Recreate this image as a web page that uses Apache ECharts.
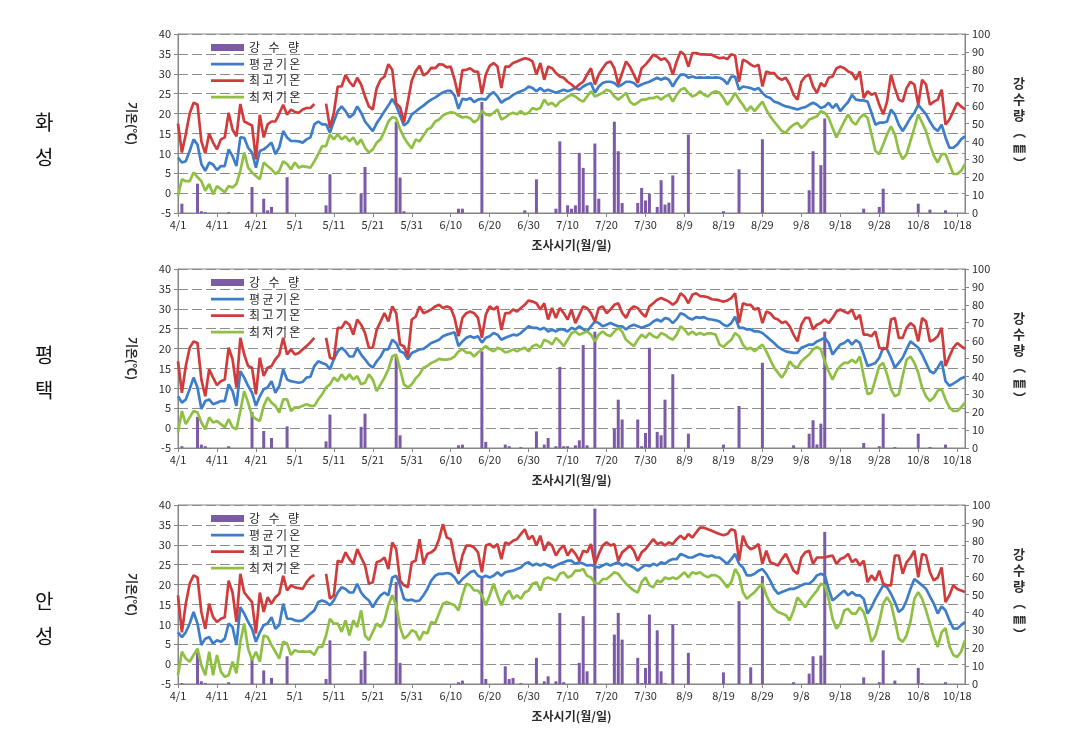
<!DOCTYPE html>
<html><head><meta charset="utf-8">
<script src="https://cdn.jsdelivr.net/npm/echarts@6/dist/echarts.min.js"></script>
<style>html,body{margin:0;padding:0;background:#fff}#c{width:1068px;height:729px}</style>
</head><body><div id="c"></div>
<script>
// ---------- categories (4/1 .. 10/20) ----------
const monthDays = [[4,30],[5,31],[6,30],[7,31],[8,31],[9,30],[10,20]];
const dates = [];
monthDays.forEach(([m,n]) => { for (let d = 1; d <= n; d++) dates.push(m + '/' + d); });

const stationNames = ['화\n성', '평\n택', '안\n성'];
const seriesNames = ['강 수 량', '평균기온', '최고기온', '최저기온'];

// ---------- 화성 ----------
const hsMax = [
17.5,10.2,14.8,20,22.7,22.3,13,10,15,12.7,
11,13.5,14,20.2,16,14.3,22.4,18,17.5,17,
8.5,19.7,14,17.3,18,18,20,22.2,19.7,21,
20.4,20.2,21,21.4,21.4,22.4,null,null,22.5,16.4,
20.2,26.8,26.8,29.7,28,26.8,29,27.3,24.3,21.8,
21,26.4,28.5,29.3,32.4,31,22.5,21.6,17.8,23,
28.3,30.6,32,29.6,30.2,31.5,31.4,32.4,32.3,31.6,
31.8,28.5,24.3,30.9,31,31.4,30.6,30.5,24.9,29.8,
32,32.7,31.8,26.4,31.8,31.8,32.7,33.1,33.5,33.9,
33.7,33.1,29.8,32.7,28.5,31.8,31.4,30.2,29.3,29,
28,27.3,26.4,27.3,28,29.8,31.4,27.3,29.8,31.4,
32.7,33.1,31.4,27.3,30.2,33.1,31.8,29.8,27.7,31.4,
32.3,33.5,34.8,34.3,33.5,33.9,32.7,29.8,33.1,35.6,
34.8,31.8,35.2,35.2,34.9,34.9,34.8,34.8,34.3,33.9,
34.1,33.7,34.9,34.6,28,33.5,33.1,32.3,31.8,32.3,
26.8,30.6,30.2,30.2,29,28.5,29,27.3,24.7,23.5,
28,29.3,29.8,26.8,25.2,27.7,26.8,29,29.3,31.4,
31.8,31.4,30.6,30.2,28.5,30.6,23.9,25.6,24.7,25.2,
22.2,19.8,23,29.8,26.4,23.5,23,26.4,28,27.3,
22.2,28.5,27.3,22.2,23,23.5,26,17.2,18.5,20.6,
22.7,21.8,21];
const hsMean = [
8.9,7.7,8,10.6,13.5,12.2,7.3,5.6,7.7,7.2,
5.8,6.8,6.8,11,9.3,6.8,14,13.9,11.4,10.2,
6.4,10.6,11,11.8,12.7,9.8,11.5,15.6,14,13.1,
13.1,13,12.7,13.5,14,17.3,18,17.3,17.3,15.2,
18,20.6,21.8,20.6,19,19.8,21.8,20.2,18,16.8,
15.6,17.6,19,20.6,22,23.7,22,19.5,17,17.8,
19.8,20.5,21.3,22,22.8,23.5,24,24.7,25.3,25.7,
25.7,24.5,21.2,23.7,23.5,23.9,22.9,23.5,23.7,23.5,
24.7,25.4,24.3,22.7,23.5,23.9,24.7,25.2,25.6,26,
26.8,26.4,25.6,26.4,25.6,26,25.6,25.2,25.6,26,
25.6,26,26.4,26,26.8,27.3,27.7,25.2,26.8,27.7,
28,28,27.7,26.8,27.3,28,28,27.7,26.8,27.3,
27.7,28,28.5,29,28.5,29,28.5,26.8,28.5,29.8,
29.8,29,29.3,29,29.1,29,29.1,29,29.1,29,
28.5,27.4,29.3,29.3,26,26.8,26.6,26.4,26,26.4,
25.2,24.3,23.9,23,22.7,22.2,21.8,21.6,21.3,21,
21.4,21.6,22.2,22.7,22.2,21.4,21.8,22.7,21.4,22.4,
20.6,21.8,22.9,24.7,23.5,23.3,23.3,23,20.2,17.2,
17.7,17.7,18,21,19.8,17.2,15.6,17.2,18.9,20.2,
22.2,21,19.8,18,16.4,15.6,17.2,14,11.4,11.4,
12.2,13.5,14.3];
const hsMin = [
-0.7,3.5,3,3,5.2,4,3,0.6,2.3,-0.3,
1.8,1,0.2,1.8,1.4,2.3,5.6,10.2,6.4,5.2,
4.3,3.5,7.7,6.8,6,4.8,5.6,8,7.3,6,
7.7,6.4,6.8,6.6,6.4,8,9.8,11.8,11.8,14.8,
13.5,14.8,13.5,14.3,13,14,12.2,13.5,11.4,10.2,
11,12.7,13.5,15.6,18,19.1,18.8,16,14,12.5,
11.2,13.5,13,14.5,16,16.5,18,18.5,19.5,20,
20.3,20.2,19.5,19,19.2,18.8,17.8,18.5,20.7,19.8,
19.5,20.2,21,18.5,19,19.8,20.2,19.8,20.6,19.8,
20.2,21.4,21,21.4,23.5,22.2,22.7,21.8,23,23.5,
24.3,24.7,24.3,23.5,23,24.3,25.6,24.3,24.7,25.2,
26,25.6,24.3,23.5,24.3,25.2,23,22.2,22.7,23.5,
23.5,23.9,23.9,24.3,23.5,24.3,24.7,23,24.7,26,
26.4,25.2,24.3,24.7,25.6,24.7,24.3,25.2,25.6,25.2,
23.9,22.2,23.5,25.2,23.5,22.2,20.6,21.8,20.6,21.8,
23,21,19.3,18,16.8,15.6,15.2,16.4,17.2,17.7,
16.4,17.2,18.5,18.9,19.3,20.6,20.2,18.9,16.4,14,
16,18,19.8,18,17.2,18.9,19.8,18.9,14.8,10.6,
9.8,12.2,14.8,16.8,14.8,10.6,8.5,9.8,13.1,16.4,
19.8,17.7,15.6,12.2,9.4,7.7,9.8,9.8,7.3,4.8,
4.8,5.6,7.3];
const hsRain = [
['4/2',5.2],['4/6',16.4],['4/7',1],['4/8',0.5],['4/14',0.5],['4/20',14.5],['4/23',8],['4/24',1.5],['4/25',3.4],['4/29',20],
['5/9',4.3],['5/10',21.6],['5/18',10.8],['5/19',25.7],['5/27',51],['5/28',19.8],['5/29',1],
['6/12',2.4],['6/13',2.4],['6/18',62],['6/29',1.5],
['7/2',18.8],['7/7',2.4],['7/8',40],['7/10',4.3],['7/11',2.4],['7/12',4.3],['7/13',33.6],['7/14',25.2],['7/15',4.3],['7/17',38.8],['7/18',8],
['7/22',51],['7/23',34.5],['7/24',5.6],['7/28',5.6],['7/29',14],['7/30',7],['7/31',10.8],
['8/2',3.4],['8/3',18.3],['8/4',4.7],['8/5',5.8],['8/6',21],['8/10',43.8],['8/19',1],['8/23',24.4],['8/29',41.2],
['9/10',12.7],['9/11',34.5],['9/13',26.7],['9/14',52.8],['9/24',2.4],['9/28',3.4],['9/29',13.6],
['10/8',5.2],['10/11',1.9],['10/15',1.5]];

// ---------- 평택 ----------
const ptMax = [
16.8,8.9,15.6,20.2,21.8,21.4,12.2,8,14.8,12.7,
10.8,11.8,12.2,20.2,17.3,10.2,22.7,18.5,15.6,15.2,
8.5,17.7,13.1,15.2,15.6,17.3,18.5,22.7,18.5,19.8,
18.5,18.9,19.8,20.6,21.6,22.7,null,null,22.7,17.7,
17.3,25.2,25.2,26.8,26,23.5,27.3,26,23.9,20.2,
20.2,24.7,26.8,28.9,26.8,30.6,28.9,21,20.6,18,
27.3,28,30.6,28.9,29.3,29.8,30.6,31,30.2,30.6,
30.2,27.7,23.1,27.7,28.9,29.3,28.9,27.7,22.7,28.5,
30.6,29.8,30.6,24.7,28.9,28.9,29.8,29.3,30.2,31,
32.1,31.8,31.4,29.8,31.4,27.3,30.2,27.7,30.2,28.9,
27.3,29.8,26.4,28.5,30.6,30.2,28.9,26.8,30.2,30.6,
28.9,29.8,31,31.4,29,27.7,29.8,30.6,30.2,28.9,
28,30.6,31.4,32.3,32.7,32.3,31.8,31,31.8,33.9,
33.1,31.4,33.5,33.9,33.2,33.1,32.9,32.4,32.3,32.1,
31.8,32.1,32.7,33.9,26.4,31.4,31,31,29.8,30.2,
26.4,29.3,28.9,27.7,27.3,26.4,26.8,25.6,23.5,21.8,
26,27.7,27.7,24.8,26,26.4,27.3,26.4,27.7,29.3,
29.8,29.3,28.9,29.8,27.3,28.5,23.5,23.5,23.1,24.3,
20.2,19.8,20.2,27.3,27.7,22.7,22.7,25.2,26.4,25.6,
21.8,27.7,26.8,21.8,22.2,23.1,25.2,15.6,18,20.2,
21.4,20.6,19.9];
const ptMean = [
8,6.4,7.2,9.8,12.7,10.2,4.8,6.8,7.2,6,
6.4,6.8,6.8,11,9.3,5.6,14.3,12.7,10.6,8.9,
5.6,8,9.8,10.2,11.8,8.9,10.6,14.8,12.2,11.8,
11.6,11.4,11.6,12.7,12.9,15.6,16.8,16.4,16,14.8,
17.3,19.3,20.2,19.3,18,18,20.2,18.5,17.3,16,
15.2,16.8,18,19.8,19.8,22.2,21.4,19.3,18.9,17.3,
18.9,19.3,19.8,19.9,20.6,21.4,21.8,22.2,23.1,23.5,
23.8,24.1,20.6,21.8,22.7,23.1,22.7,23.1,21.5,22.7,
23.1,23.9,23.5,22.2,22.7,23.1,23.5,23.3,23.9,24.8,
25.6,25.2,25.2,24.8,25.2,24.3,24.8,24.3,24.9,24.8,
24.3,25.2,24.8,25.6,24.9,24.3,25.6,26.8,26.4,25.6,
26,26.4,26,25.6,25.6,24.8,25.6,26,25.6,25.2,
25.6,26,26.8,27.3,26.8,27.7,27.4,26.4,27.4,28.9,
28.5,27.7,27.3,27.9,27.7,27.9,27.4,27.3,27.1,26.8,
26,25.6,26.4,28,25.2,25.2,24.8,24.8,24.3,24.3,
23.9,23.1,22.2,21.4,20.4,19.8,19.3,19.1,18.9,18.9,
20.2,20.6,21,21,21.8,22.2,22.7,21.4,18.5,19.8,
21,21.4,22.2,21,22.1,21.4,18.5,15.6,16,16.4,
17.7,20.2,19.8,17.7,15.2,16.4,17.7,19.8,21.8,21,
20.2,18.5,16.4,14.3,13.8,15.2,16.8,11.8,10.6,11.2,
11.8,12.5,12.9];
const ptMin = [
-1.1,4.3,1,2.7,4.3,3.9,1.4,-0.3,2.7,1.4,
1.8,1,0.2,2.3,0.2,-0.3,4.3,9.3,6.4,3.1,
2.3,1.8,5.6,7.7,6.4,5.6,3.9,7.2,7.2,4.3,
5.2,5.2,5.6,6,5.6,5.6,7.2,8.5,10.2,11,
12.7,11.8,13.5,12.2,13.5,12.2,13.1,11,11.4,13.5,
12.2,9.3,11,12.7,14.8,18,18.5,14.8,11,10.2,
11,12.5,13.5,15.2,15.6,16.4,16.8,17.4,17.2,17.2,
17.4,18,19.3,19.8,19,19,18,19,19.8,20.6,
19.8,19.3,20.2,19.8,19,19.3,19.8,19.3,19.8,20.2,
19.3,20.6,21,20.2,22.2,21.8,21,22.7,21.8,20.6,
22.2,23.9,24.3,23.5,23.9,24.3,23.5,21.8,23.5,24.3,
23.5,23.1,24.3,25.2,24.3,22.2,21.4,20.6,22.2,23.5,
22.7,23.9,23.1,22.7,23.9,23.5,22.7,22.2,23.5,25.6,
24.8,23.5,24.3,23.5,23.9,23.5,23.8,23.8,23.5,21,
20.4,21.4,22.2,23.9,23.1,21,19.8,20.2,19.3,20.2,
21,19.3,17.2,15.2,13.9,12.7,14.3,16.8,15.6,15.2,
16.8,17.7,18.5,19.8,20.4,19.8,16.8,14.3,12.2,14.3,
15.6,16.4,16.4,17.2,16.4,18,13.1,8.5,8.9,12.2,
15.6,16.4,13.5,9.8,8,8.5,13.1,17.2,18,16.4,
13.9,10.2,8,6.8,7.7,9.4,9.8,7.2,5.2,4.3,
4.3,5.2,6.4];
const ptRain = [
['4/2',1],['4/6',17.4],['4/7',1.9],['4/8',1],['4/14',1],['4/20',20.1],['4/23',9.5],['4/25',5.6],['4/29',12.1],
['5/9',3.7],['5/10',18.7],['5/18',11.8],['5/19',19.2],['5/27',51],['5/28',7.1],
['6/12',1.5],['6/13',1.9],['6/18',54],['6/19',3.4],['6/24',1.9],['6/25',1],['6/28',0.5],
['7/2',9.3],['7/4',1.9],['7/5',5.6],['7/7',1],['7/8',45.3],['7/9',1],['7/10',1],['7/12',1.5],['7/13',4.3],['7/14',57.5],['7/15',1.5],['7/17',65],
['7/22',10.8],['7/23',27],['7/24',15.9],['7/28',15.9],['7/29',1],['7/30',8.4],['7/31',56],
['8/2',9],['8/3',7.1],['8/4',27],['8/6',41.2],['8/10',8],['8/19',1.9],['8/23',23.5],['8/29',47.6],
['9/6',1.5],['9/10',8],['9/11',15.5],['9/12',2],['9/13',13.6],['9/14',65],['9/24',2.8],['9/28',1],['9/29',19.2],
['10/2',0.5],['10/8',8],['10/11',0.5],['10/15',1.9]];

// ---------- 안성 ----------
const asMax = [
17.3,8,15.2,20.2,22.3,21.8,13.1,8.9,15.2,11.8,
10.6,11.4,11.8,21,18,10.6,22.7,18,16.8,15.6,
7.7,18,13.1,16.8,15.2,16.8,17.7,22.2,18.5,19.8,
19.3,19.1,18.9,20.6,21.8,22.4,null,null,22.7,16.4,
17.3,26,25.6,28.1,26.4,25.2,28.9,26.8,24.8,20.2,
20.6,25.6,26,26.8,23.9,30.6,28.9,21,19.8,19.3,
25.6,26,31.4,25.2,27.7,28.1,28.9,31.4,35.2,31.8,
31.4,26.4,22.7,27.3,29.8,29.8,29.3,28.1,23.1,29.8,
30.2,29.3,30.2,26.4,30.6,30.2,31,31.4,32.7,33.9,
31.4,32.3,29.8,32.3,28.5,30.6,29.8,27.3,28.9,29.8,
27.3,28.9,27.7,26,28.5,28.1,30.2,25.2,27.7,29.8,
30.6,29.8,30.2,26,28.1,28.9,29.8,28.5,26,28.1,
28.9,30.2,31.4,30.2,30.6,29.8,30.6,30.2,31.4,32.3,
31.4,32.7,31.8,33.1,34.3,34.3,33.9,33.5,33.1,32.7,
32.4,32.7,33.9,33.5,26,32.3,29.8,28.9,29.3,30.2,
25.2,28.5,25.6,25.2,24.8,26.4,27.7,25.6,23.5,22.7,
26.8,28.1,28.5,25.2,26.8,26.8,26.8,27.1,27.3,25.2,
26.4,26.8,27.7,25.6,26.4,24.8,26,20.6,22.3,21,
23.5,20.2,19.8,19.8,27.3,27.3,22.7,25.6,26.8,28.5,
21.8,27.7,27.3,23.1,21,21.8,24.3,15.6,17.3,19.8,
18.9,18.5,18.1];
const asMean = [
8,6.8,8,10.2,13.1,10.2,4.8,6.4,6.8,5.2,
6,5.6,6.4,10.2,9.3,4.8,14.3,12.7,10.6,8.9,
5.6,8,9.8,10.2,11.8,8.9,9.8,15.2,11.4,11.4,
11,10.8,11,11.8,12.7,13.5,15.6,16,15.6,14.8,
16,18,19.3,18.9,18,18,20.2,18,16.8,16,
14.3,16,17.3,18,17.3,21.8,22.2,19.8,16.4,16,
16.2,15.8,16,17.3,18.9,21,22.2,22.7,22.7,22.9,
22.7,21.8,20.2,21.4,22.2,23.1,23.5,22.2,21.8,22.2,
21.8,22.2,23.1,22.2,23.1,23.3,23.5,23.9,24.3,25.2,
25.6,24.8,25.2,24.8,25.2,24.8,24.3,24.8,25.2,25.6,
26,26,25.2,25.6,25.2,24.8,24.9,24.6,24.3,24.8,
25.2,24.8,25.2,25.6,24.8,25.2,24.8,24.3,23.5,24.3,
24.9,24.6,25.2,24.8,25.6,25.2,26,26.4,26.4,27.7,
27.3,26.8,26.8,27.3,27.7,27.3,27.1,27.3,26.8,26.8,
26,25.2,26.4,27.7,25.2,24.3,22.3,22.3,22.7,23.5,
23.9,22.7,21,18.9,17.7,18.1,18.5,18.9,18.9,19.3,
19.8,20.2,20.2,21,22.3,22.7,22.3,18.9,16,16.8,
17.7,18.5,17.3,18.1,17.3,17.3,16.4,12.7,14.3,16.4,
18.1,19.8,19.3,17.7,15.6,13.1,13.9,16,18.9,21.4,
20.6,19.8,18.9,17,15.2,12.7,14.5,13.5,11,9,
8.9,9.8,10.6];
const asMin = [
-2.8,3.1,1.4,0.6,2.3,3.9,-0.3,-2.8,3.1,-2.8,
2.3,-1.9,-3.2,-2.8,0.6,-2.3,5.6,10.2,3.9,1,
3.1,0.6,7.2,6.8,4.8,3.1,1.4,5.6,5.2,2.3,
3.5,3.1,3.2,3.1,3.2,2.3,4.3,4.3,7.2,11.4,
10.2,10.2,8.1,11,7.2,11,9.3,13.5,7.2,6,
8.1,10.2,9.3,11,14.8,17.3,14.8,9.3,6.4,7.2,
8.5,8.1,6,8.1,7.7,10.6,10.2,12.7,15.2,15.6,
15.2,14.8,13.5,17.3,20.2,19.8,18.5,18.5,17.3,14.8,
17.3,20.2,17.3,14.8,17.3,18.5,16.4,17.3,16.4,18,
18.5,20.2,20.6,18.5,21.4,21.8,21.4,21,22.7,23.1,
21.8,22.2,23.5,23.5,23.9,22.2,21.8,20.4,20.2,21.4,
21.4,22.2,23.1,22.7,21.4,20.2,19.3,18.5,18,20.6,
21.8,19.8,19.3,21,20.6,21.8,21.4,21.8,21.4,22.2,
23.1,21.8,23.1,22.7,23.1,22.3,21.8,22.4,22.3,21.8,
20.6,19.3,20.6,23.9,22.3,18.1,16.4,17.3,18.1,19.3,
20.2,17.3,15.2,13.9,13.1,12.7,12.3,11,13.5,16.8,
15.6,14.3,16,17.3,18.5,20.2,19.8,16.4,11.4,8.9,
10.2,13.5,13.9,12.7,12.7,14.3,13.1,9.8,5.6,7.2,
10.6,15.2,16.8,15.2,11,6.4,5.6,7.2,10.6,16.4,
18.1,16.4,13.5,10.2,6.8,4.3,8,9,4.5,2.3,
1.8,3.1,6];
const asRain = [
['4/2',0.5],['4/6',17.4],['4/7',1.5],['4/8',0.5],['4/14',1],['4/20',14],['4/23',7.6],['4/25',3.4],['4/29',15.5],
['5/9',2.8],['5/10',24.4],['5/18',8],['5/19',18.3],['5/27',57],['5/28',11.8],
['6/12',1],['6/13',1.9],['6/18',60],['6/19',2.8],['6/24',9.9],['6/25',2.8],['6/26',3.4],['6/28',0.5],
['7/2',14.6],['7/4',1.5],['7/5',4.3],['7/7',1.5],['7/8',39.7],['7/9',1],['7/13',11.8],['7/14',37.9],['7/15',7.1],['7/17',98],
['7/22',27.6],['7/23',39.7],['7/24',24.8],['7/28',14.6],['7/29',0.5],['7/30',9],['7/31',38.8],
['8/2',30],['8/3',7.1],['8/4',0.5],['8/6',33.2],['8/10',17.4],['8/19',6.5],['8/23',46.3],['8/26',9.3],['8/29',60.3],
['9/6',1],['9/10',5.8],['9/11',15.5],['9/12',0.5],['9/13',15.9],['9/14',85],['9/24',3.7],['9/28',1],['9/29',18.8],
['10/2',1.9],['10/8',9],['10/9',0.5],['10/15',1]];

const panels = [
  {max: hsMax, mean: hsMean, min: hsMin, rain: hsRain},
  {max: ptMax, mean: ptMean, min: ptMin, rain: ptRain},
  {max: asMax, mean: asMean, min: asMin, rain: asRain}
];

// ---------- layout / styles ----------
const FONT = '"Noto Sans CJK KR", "Noto Sans", sans-serif';
const gridTops = [34, 269, 505];
const stationTops = [105, 338, 584];
const C = {bar: '#7B5BA6', mean: '#3D7DCA', max: '#D03C3C', min: '#8FC043', axis: '#868686', text: '#2b2b2b'};
const LINE_ICON = 'path://M0,0H132V11H0Z';
const legendLabels = {'강 수 량': '강\u2002\u2009수\u2002\u2009량', '평균기온': '평\u2009균\u2009기\u2009온',
  '최고기온': '최\u2009고\u2009기\u2009온', '최저기온': '최\u2009저\u2009기\u2009온'};

function rainFull(pairs) {
  const m = new Map(pairs);
  return dates.map(d => m.has(d) ? m.get(d) : null);
}

const grid = [], xAxis = [], yAxis = [], series = [], legend = [], graphic = [];
panels.forEach((p, i) => {
  grid.push({left: 178, width: 787, top: gridTops[i], height: 179,
    show: true, borderColor: C.axis, borderWidth: 1, backgroundColor: 'transparent'});
  xAxis.push({type: 'category', gridIndex: i, data: dates, boundaryGap: false,
    axisLine: {onZero: false, lineStyle: {color: C.axis}},
    axisTick: {interval: 9, length: 4, lineStyle: {color: C.axis}},
    axisLabel: {interval: 9, color: C.text, fontSize: 11, margin: 6, fontFamily: FONT},
    name: '조사시기(월/일)', nameLocation: 'middle', nameGap: 26,
    nameTextStyle: {fontSize: 12, color: C.text, fontFamily: FONT, fontWeight: 'bold'}});
  yAxis.push({type: 'value', gridIndex: i, min: -5, max: 40, interval: 5,
    axisLine: {show: true, lineStyle: {color: C.axis}},
    axisTick: {show: true, length: 4, lineStyle: {color: C.axis}},
    axisLabel: {color: C.text, fontSize: 11, margin: 7, fontFamily: FONT},
    splitLine: {show: true, lineStyle: {color: '#8c8c8c', type: [10, 4], width: 1}},
    name: '기온(℃)', nameLocation: 'middle', nameRotate: -90, nameGap: 40,
    nameTextStyle: {fontSize: 12, color: C.text, fontFamily: FONT, fontWeight: 'bold'}});
  yAxis.push({type: 'value', gridIndex: i, position: 'right', min: 0, max: 100, interval: 10,
    axisLine: {show: true, lineStyle: {color: C.axis}},
    axisTick: {show: true, length: 4, lineStyle: {color: C.axis}},
    axisLabel: {color: C.text, fontSize: 11, margin: 7, fontFamily: FONT},
    splitLine: {show: false},
    name: '강\n수\n량\n︵\n㎜\n︶', nameLocation: 'middle', nameRotate: 0, nameGap: 48,
    nameTextStyle: {fontSize: 13, lineHeight: 16, padding: [22, 0, 0, 0],
      color: C.text, fontFamily: FONT, fontWeight: 'bold'}});
  series.push({type: 'bar', name: seriesNames[0], xAxisIndex: i, yAxisIndex: 2 * i + 1,
    data: rainFull(p.rain), barWidth: 3, itemStyle: {color: C.bar}, z: 1});
  [['mean', 1], ['max', 2], ['min', 3]].forEach(([k, n]) => {
    series.push({type: 'line', name: seriesNames[n], xAxisIndex: i, yAxisIndex: 2 * i,
      data: p[k], symbol: 'none', connectNulls: false, z: 3,
      lineStyle: {width: 2.7, color: C[k]}, itemStyle: {color: C[k]}});
  });
  legend.push({orient: 'vertical', left: 211, top: gridTops[i] + 6, itemWidth: 33, itemHeight: 7,
    itemGap: 1.5, selectedMode: false, padding: 0,
    formatter: n => legendLabels[n] || n,
    textStyle: {fontSize: 12, color: C.text, fontFamily: FONT, lineHeight: 15},
    data: [{name: seriesNames[0], icon: 'rect'},
           {name: seriesNames[1], icon: LINE_ICON},
           {name: seriesNames[2], icon: LINE_ICON},
           {name: seriesNames[3], icon: LINE_ICON}]});
  graphic.push({type: 'text', left: 35, top: stationTops[i],
    style: {text: stationNames[i], fontSize: 20, lineHeight: 35, fill: '#111', fontFamily: FONT}});
});

const chart = echarts.init(document.getElementById('c'), null, {renderer: 'canvas'});
chart.setOption({backgroundColor: '#fff', animation: false, grid, xAxis, yAxis, series, legend, graphic});
</script></body></html>
